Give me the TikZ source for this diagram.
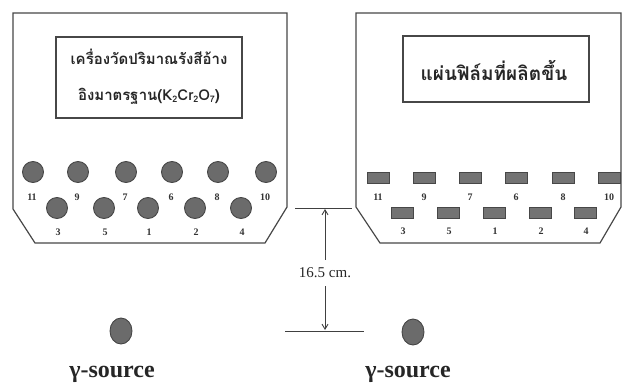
\documentclass[tikz,border=0pt]{standalone}
\usepackage{fontspec}
\setmainfont{Liberation Serif}
\newfontfamily\thaifont[Script=Thai]{Loma}
\usetikzlibrary{arrows.meta,shapes.geometric}
\tikzset{
  frame/.style={draw=black!72, line width=1.2pt, line join=miter},
  tbox/.style={rectangle, draw=black!72, line width=1.2pt, inner sep=0pt},
  dose/.style={circle, draw=black!72, fill=black!58, line width=0.9pt, minimum size=21pt, inner sep=0pt},
  film/.style={rectangle, draw=black!72, fill=black!55, line width=0.9pt, minimum width=22pt, minimum height=11pt, inner sep=0pt},
  num/.style={font=\bfseries\fontsize{10}{10}\selectfont, text=black!80, inner sep=0pt},
  thai/.style={font=\thaifont\bfseries\fontsize{15}{15}\selectfont, text=black!85, inner sep=0pt},
  src/.style={ellipse, draw=black!72, fill=black!58, line width=0.9pt, minimum width=22pt, minimum height=26pt, inner sep=0pt},
  srclabel/.style={font=\bfseries\fontsize{24}{24}\selectfont, text=black!85, inner sep=0pt},
  dim/.style={draw=black!75, line width=1pt},
  dimarrow/.style={draw=black!75, line width=0.9pt, -{Straight Barb[length=5pt,width=6pt]}},
}
\begin{document}
\begin{tikzpicture}[x=1pt,y=-1pt]
\useasboundingbox (0,0) rectangle (623,388);
% left housing
\coordinate (la) at (13,13);
\coordinate (lb) at (287,13);
\coordinate (lc) at (287,207);
\coordinate (ld) at (265,243);
\coordinate (le) at (35,243);
\coordinate (lf) at (13,209);
\draw[frame] (la) -- (lb) -- (lc) -- (ld) -- (le) -- (lf) -- cycle;
% right housing
\coordinate (ra) at (356,13);
\coordinate (rb) at (621,13);
\coordinate (rc) at (621,207);
\coordinate (rd) at (600,243);
\coordinate (re) at (380,243);
\coordinate (rf) at (356,207);
\draw[frame] (ra) -- (rb) -- (rc) -- (rd) -- (re) -- (rf) -- cycle;
% text boxes
\node[tbox, minimum width=186pt, minimum height=81pt] (meterbox) at (149,77.5) {};
\node[thai] (meter1) at (149,57) {เครื่องวัดปริมาณรังสีอ้าง};
\node[thai] (meter2) at (149,96) {อิงมาตรฐาน(K\raisebox{-0.35ex}{\fontsize{9}{9}\selectfont 2}Cr\raisebox{-0.35ex}{\fontsize{9}{9}\selectfont 2}O\raisebox{-0.35ex}{\fontsize{9}{9}\selectfont 7})};
\node[tbox, minimum width=186pt, minimum height=66pt] (filmbox) at (496,69) {};
\node[thai, font=\thaifont\bfseries\fontsize{19}{19}\selectfont] (filmtext) at (494,70) {แผ่นฟิล์มที่ผลิตขึ้น};
% dosimeters (left)
\foreach \x/\l [count=\i] in {33/11,78/9,126/7,172/6,218/8,266/10} {
  \node[dose] (dt\i) at (\x,172) {};
  \node[num] (dtl\i) at (\x-1,197) {\l};
}
\foreach \x/\l [count=\i] in {57/3,104/5,148/1,195/2,241/4} {
  \node[dose] (db\i) at (\x,208) {};
  \node[num] (dbl\i) at (\x+1,232) {\l};
}
% films (right)
\foreach \x/\l [count=\i] in {378/11,424/9,470/7,516/6,563/8,609/10} {
  \node[film] (ft\i) at (\x,178) {};
  \node[num] (ftl\i) at (\x,197) {\l};
}
\foreach \x/\l [count=\i] in {402/3,448/5,494/1,540/2,585/4} {
  \node[film] (fb\i) at (\x,213) {};
  \node[num] (fbl\i) at (\x+1,231) {\l};
}
% distance
\coordinate (t1) at (295,208);
\coordinate (t2) at (352,208);
\draw[dim] (t1) -- (t2);
\coordinate (b1) at (285,331);
\coordinate (b2) at (364,331);
\draw[dim] (b1) -- (b2);
\node[font=\fontsize{15}{15}\selectfont, text=black!85, inner sep=0pt] (dist) at (325,273) {16.5 cm.};
\coordinate (tm) at (325,209);
\coordinate (bm) at (325,330);
\draw[dimarrow] (dist.north) ++(0,-8) coordinate (du) -- (tm);
\draw[dimarrow] (dist.south) ++(0,8) coordinate (dd) -- (bm);
% gamma sources
\node[src] (s1) at (121,331) {};
\node[src] (s2) at (413,332) {};
\node[srclabel] (s1l) at (112,374) {γ-source};
\node[srclabel] (s2l) at (408,374) {γ-source};
\end{tikzpicture}
\end{document}
